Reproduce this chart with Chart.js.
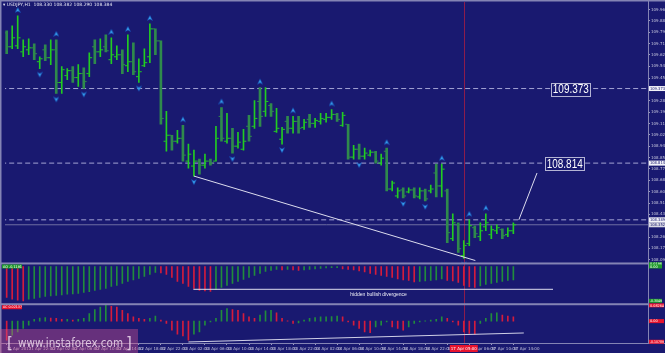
<!DOCTYPE html>
<html><head><meta charset="utf-8">
<script src="https://cdn.jsdelivr.net/npm/chart.js@4.4.0/dist/chart.umd.min.js"></script>
<style>html,body{margin:0;padding:0;background:#191970;overflow:hidden}canvas{display:block}</style>
</head><body>
<div style="position:relative;width:665px;height:353px"><canvas id="c" width="665" height="353"></canvas></div>
<script>
// ---------- data ----------
const headerText = "\u25BE USDJPY,H1  108.330 108.382 108.290 108.384";
const timeLabels = ["11 Apr 2017","11 Apr 22:00","12 Apr 02:00","12 Apr 06:00","12 Apr 10:00","12 Apr 14:00",
  "12 Apr 18:00","12 Apr 22:00","13 Apr 02:00","13 Apr 06:00","13 Apr 10:00","13 Apr 14:00","13 Apr 18:00",
  "13 Apr 22:00","14 Apr 02:00","14 Apr 06:00","14 Apr 10:00","14 Apr 14:00","14 Apr 18:00","14 Apr 22:00",
  "17 Apr 02:00","17 Apr 06:00","17 Apr 10:00","17 Apr 14:00"];
const opens = [109.790,109.686,109.693,109.648,109.663,109.678,109.574,109.663,109.604,109.663,
  109.418,109.470,109.507,109.455,109.485,109.485,109.686,109.648,109.686,109.589,
  109.611,109.626,109.544,109.574,109.462,109.544,109.611,109.820,109.730,108.978,
  109.023,108.978,109.000,108.829,108.792,108.829,108.799,108.829,108.829,109.164,
  108.978,109.000,108.941,108.918,109.090,109.090,109.276,109.202,109.246,109.052,
  108.993,109.127,109.075,109.127,109.082,109.142,109.112,109.127,109.142,109.157,
  109.179,109.097,109.105,108.859,108.918,108.866,108.874,108.896,108.814,108.903,
  108.620,108.568,108.613,108.598,108.613,108.561,108.606,108.606,108.740,108.643,
  108.606,108.248,108.352,108.121,108.211,108.330,108.263,108.337,108.278,108.307,
  108.315,108.278,108.307];
const highs = [109.805,109.842,109.917,109.738,109.745,109.708,109.611,109.701,109.738,109.738,
  109.537,109.522,109.537,109.552,109.529,109.641,109.738,109.745,109.775,109.753,
  109.693,109.663,109.775,109.716,109.596,109.671,109.857,109.820,109.730,109.202,
  109.023,109.060,109.097,108.956,108.911,108.844,108.881,108.844,109.090,109.231,
  109.187,109.075,109.045,109.067,109.172,109.283,109.380,109.380,109.261,109.224,
  109.082,109.164,109.164,109.164,109.142,109.179,109.149,109.187,109.187,109.216,
  109.187,109.194,109.105,108.948,108.956,108.926,108.911,108.903,108.881,108.926,
  108.680,108.628,108.628,108.628,108.628,108.628,108.620,108.650,108.807,108.807,
  108.620,108.434,108.367,108.233,108.389,108.345,108.367,108.434,108.345,108.352,
  108.322,108.330,108.367];
const lows = [109.634,109.671,109.671,109.611,109.626,109.589,109.522,109.581,109.552,109.336,
  109.336,109.440,109.418,109.388,109.373,109.462,109.559,109.611,109.648,109.559,
  109.589,109.485,109.499,109.477,109.418,109.537,109.567,109.626,109.105,108.903,
  108.911,108.963,108.829,108.777,108.717,108.732,108.777,108.799,108.829,108.978,
  108.963,108.889,108.926,108.911,108.978,109.075,109.090,109.164,109.164,109.045,
  108.956,109.038,109.038,109.038,109.067,109.082,109.082,109.105,109.120,109.142,
  109.127,109.090,108.844,108.844,108.844,108.844,108.866,108.814,108.799,108.606,
  108.606,108.553,108.553,108.591,108.553,108.546,108.531,108.591,108.561,108.561,
  108.218,108.233,108.144,108.099,108.196,108.255,108.233,108.307,108.248,108.285,
  108.248,108.263,108.285];
const closes = [109.686,109.753,109.753,109.686,109.678,109.634,109.596,109.604,109.663,109.418,
  109.514,109.507,109.455,109.485,109.425,109.604,109.648,109.663,109.656,109.626,
  109.626,109.552,109.574,109.499,109.499,109.567,109.820,109.730,109.149,109.023,
  108.978,109.000,108.874,108.881,108.829,108.799,108.829,108.814,109.000,109.000,
  109.000,108.941,108.971,108.978,109.015,109.149,109.164,109.276,109.202,109.075,
  109.067,109.075,109.127,109.075,109.120,109.112,109.134,109.149,109.157,109.179,
  109.142,109.172,108.859,108.918,108.866,108.889,108.896,108.829,108.851,108.620,
  108.665,108.606,108.568,108.613,108.568,108.606,108.546,108.620,108.643,108.769,
  108.293,108.367,108.173,108.196,108.345,108.285,108.307,108.367,108.315,108.330,
  108.270,108.307,108.352];
const upFractals = [2,9,19,22,26,32,39,46,52,59,69,79,84,87];
const downFractals = [6,9,14,24,34,41,50,64,72,76,83];
const aoValues = [-0.273,-0.290,-0.299,-0.304,-0.290,-0.282,-0.273,-0.264,-0.260,-0.255,
  -0.251,-0.246,-0.242,-0.238,-0.229,-0.224,-0.211,-0.202,-0.194,-0.176,
  -0.167,-0.150,-0.132,-0.119,-0.106,-0.088,-0.070,-0.053,-0.057,-0.070,
  -0.097,-0.132,-0.150,-0.176,-0.194,-0.211,-0.216,-0.220,-0.202,-0.185,
  -0.167,-0.150,-0.132,-0.114,-0.097,-0.079,-0.062,-0.044,-0.035,-0.026,
  -0.031,-0.026,-0.031,-0.035,-0.031,-0.026,-0.022,-0.018,-0.013,-0.011,
  -0.010,-0.022,-0.026,-0.031,-0.040,-0.048,-0.062,-0.070,-0.079,-0.088,
  -0.097,-0.110,-0.119,-0.123,-0.136,-0.132,-0.128,-0.123,-0.119,-0.110,
  -0.123,-0.128,-0.141,-0.167,-0.180,-0.185,-0.172,-0.158,-0.150,-0.141,
  -0.132,-0.123,-0.119];
const acValues = [-0.099,-0.073,-0.056,-0.038,-0.021,0.009,0.016,0.018,0.016,0.014,
  0.009,0.009,0.005,0.009,0.014,0.040,0.061,0.074,0.083,0.078,
  0.074,0.057,0.040,0.022,0.014,0.009,0.014,0.026,0.005,-0.012,
  -0.047,-0.068,-0.078,-0.099,-0.068,-0.056,-0.021,-0.004,0.014,0.057,
  0.066,0.061,0.057,0.040,0.022,0.014,0.031,0.054,0.057,0.043,
  0.014,0.002,-0.012,-0.009,0.005,0.014,0.019,0.022,0.022,0.024,
  0.026,0.022,-0.004,-0.021,-0.038,-0.056,-0.060,-0.030,-0.021,-0.004,
  -0.030,-0.038,-0.047,-0.030,-0.012,-0.004,0.002,0.005,0.009,0.022,
  0.014,-0.004,-0.021,-0.056,-0.064,-0.068,-0.012,0.014,0.040,0.043,
  0.031,0.026,0.022];
const priceTicks = [109.965,109.880,109.795,109.710,109.625,109.540,109.450,109.365,109.280,109.195,
  109.110,109.025,108.940,108.855,108.770,108.685,108.600,108.515,108.430,108.345,108.260,108.175,108.090];
const levels = [109.373, 108.814, 108.389];
const calloutLevels = [109.373, 108.814];
const bidPrice = 108.352;
const trendMain = [[34,108.717],[85.1,108.084]];
const trendUp = [[93,108.389],[96.3,108.740]];
const aoDivergence = [[33.9,-0.202],[99.2,-0.202]];
const acDivergence = [[33.0,-0.109],[93.9,-0.062]];
const markerBar = 83;
const markerTime = "17 Apr 05:00";
const aoLegend = "AO -0.1191";
const acLegend = "AC 0.02137";
const aoAxisBoxes = [[0.020,"0.0196"],[0.0,"0.00"],[-0.304,"-0.3049"]];
const acAxisBoxes = [[0.0826,"0.08264"],[0.0,"0.00"],[-0.1079,"-0.10789"]];
const divergenceText = "hidden bullish divergence";

// ---------- build ----------
const BG = '#191970';
const idx = opens.map((_, i) => i);
const isUp = i => closes[i] >= opens[i];
const UP = '#22cc22', DN = '#2f8a4c';
const GREEN = '#218c3c', RED = '#d41c3c';

function arrowCanvas(dir) {
  const cv = document.createElement('canvas'); cv.width = 6; cv.height = 20;
  const g = cv.getContext('2d');
  g.fillStyle = '#3aa8f0';
  g.beginPath();
  if (dir === 'up') { g.moveTo(3,1.5); g.lineTo(5.5,6.5); g.lineTo(3,5); g.lineTo(0.5,6.5); }
  else { g.moveTo(3,18.5); g.lineTo(5.5,13.5); g.lineTo(3,15); g.lineTo(0.5,13.5); }
  g.closePath(); g.fill();
  g.strokeStyle = 'rgba(20,80,190,0.9)'; g.lineWidth = 0.5; g.stroke();
  return cv;
}
const upArrow = arrowCanvas('up'), dnArrow = arrowCanvas('down');

const lineDs = (pts, axis, color, dash, order) => ({
  type: 'line', yAxisID: axis, data: pts.map(p => ({x: p[0], y: p[1]})),
  borderColor: color, borderWidth: 1, borderDash: dash || [], pointRadius: 0, order: order, tension: 0
});

const datasets = [];
levels.forEach(lv => datasets.push(lineDs([[-1, lv], [120, lv]], 'y', '#a4a4d4', [5, 3], 20)));
datasets.push(lineDs([[-1, bidPrice], [120, bidPrice]], 'y', '#6e6ea2', [], 20));
datasets.push({ type: 'bar', yAxisID: 'y', grouped: false, order: 5, barThickness: 2,
  data: idx.filter(i => !isUp(i)).map(i => ({x: i, y: [lows[i], highs[i]]})), backgroundColor: DN });
datasets.push({ type: 'bar', yAxisID: 'y', grouped: false, order: 4, barThickness: 1,
  data: idx.filter(isUp).map(i => ({x: i, y: [lows[i], highs[i]]})), backgroundColor: UP });
datasets.push({ type: 'scatter', yAxisID: 'y', order: 3, data: idx.map(i => ({x: i - 0.32, y: opens[i]})),
  pointStyle: 'line', pointRadius: 1.1, pointBorderWidth: 1,
  pointBorderColor: c => isUp(c.dataIndex) ? UP : DN });
datasets.push({ type: 'scatter', yAxisID: 'y', order: 3, data: idx.map(i => ({x: i + 0.32, y: closes[i]})),
  pointStyle: 'line', pointRadius: 1.1, pointBorderWidth: 1,
  pointBorderColor: c => isUp(c.dataIndex) ? UP : DN });
datasets.push({ type: 'scatter', yAxisID: 'y', order: 2, data: upFractals.map(i => ({x: i, y: highs[i]})),
  pointStyle: upArrow, pointRadius: 3 });
datasets.push({ type: 'scatter', yAxisID: 'y', order: 2, data: downFractals.map(i => ({x: i, y: lows[i]})),
  pointStyle: dnArrow, pointRadius: 3 });
datasets.push(lineDs(trendMain, 'y', '#dcdcee', [], 1));
datasets.push(lineDs(trendUp, 'y', '#dcdcee', [], 1));
datasets.push({ type: 'bar', yAxisID: 'yAO', grouped: false, order: 5, barThickness: 1,
  data: idx.map(i => ({x: i, y: aoValues[i]})),
  backgroundColor: c => (c.dataIndex > 0 && aoValues[c.dataIndex] >= aoValues[c.dataIndex - 1]) ? GREEN : RED });
datasets.push({ type: 'bar', yAxisID: 'yAC', grouped: false, order: 5, barThickness: 1,
  data: idx.map(i => ({x: i, y: acValues[i]})),
  backgroundColor: c => (c.dataIndex > 0 && acValues[c.dataIndex] >= acValues[c.dataIndex - 1]) ? GREEN : RED });
datasets.push(lineDs(aoDivergence, 'yAO', '#dcdcee', [], 1));
datasets.push(lineDs(acDivergence, 'yAC', '#d0d0e6', [], 1));

const fixY = s => { s.width = 17; s.paddingTop = 0; s.paddingBottom = 0; s.paddingLeft = 0; s.paddingRight = 0; };
const FRAME = '#8484b4';
const small = {family: 'DejaVu Sans', size: 4};

function box(ctx, x, y, w, h, fill, text, color, font) {
  ctx.fillStyle = fill; ctx.fillRect(x, y, w, h);
  ctx.fillStyle = color; ctx.font = font; ctx.textBaseline = 'middle'; ctx.textAlign = 'left';
  ctx.fillText(text, x + 1, y + h / 2 + 0.3, w - 1);
}

const decor = {
  id: 'decor',
  beforeDraw(chart) {
    const c = chart.ctx; c.save(); c.fillStyle = BG; c.fillRect(0, 0, chart.width, chart.height); c.restore();
  },
  beforeDatasetsDraw(chart) {
    const c = chart.ctx, x = chart.scales.x.getPixelForValue(markerBar);
    c.save(); c.strokeStyle = '#8c1c4c'; c.lineWidth = 1;
    c.beginPath(); c.moveTo(Math.round(x) + 0.5, 2); c.lineTo(Math.round(x) + 0.5, 343); c.stroke(); c.restore();
  },
  afterDraw(chart) {
    const c = chart.ctx, sx = chart.scales.x, sy = chart.scales.y, sa = chart.scales.yAO, sc = chart.scales.yAC;
    const ca = chart.chartArea;
    c.save();
    // frames
    c.fillStyle = FRAME;
    c.fillRect(0, 0, 665, 1.5);
    c.fillRect(0, 0, 1.5, 353);
    c.fillRect(0, sa.top - 1, ca.right, 2);
    c.fillRect(0, sc.top - 1, ca.right, 2);
    c.fillRect(0, ca.bottom, 665, 1);
    c.fillRect(ca.right, 0, 1, ca.bottom);
    // header
    c.fillStyle = '#e8e8f4'; c.font = '4.5px DejaVu Sans'; c.textBaseline = 'middle'; c.textAlign = 'left';
    c.fillText(headerText, 3, 4.5);
    // callouts
    const cx = [98.8, 97.7];
    calloutLevels.forEach((lv, k) => {
      const x = sx.getPixelForValue(cx[k]), y = sy.getPixelForValue(lv) + 1;
      c.fillStyle = BG; c.fillRect(x, y - 7, 40, 14);
      c.strokeStyle = '#b4b4d4'; c.lineWidth = 1; c.strokeRect(Math.round(x) + 0.5, Math.round(y - 7) + 0.5, 39, 13);
      c.fillStyle = '#ffffff'; c.font = '12px Liberation Sans'; c.textBaseline = 'middle';
      c.fillText(lv.toFixed(3), x + 2, y + 0.5, 36);
    });
    // right axis highlight boxes
    levels.forEach(lv => box(c, ca.right + 1, sy.getPixelForValue(lv) - 2.5, 16, 5, '#f2f2f8', lv.toFixed(3), '#191970', '4px DejaVu Sans'));
    box(c, ca.right + 1, sy.getPixelForValue(bidPrice) - 2.5, 16, 5, '#d8d8e4', bidPrice.toFixed(3), '#191970', '4px DejaVu Sans');
    aoAxisBoxes.forEach(b => box(c, ca.right + 1, sa.getPixelForValue(b[0]) - 2, 13, 4, '#1d9a2a', b[1], '#ffffff', '3.5px DejaVu Sans'));
    acAxisBoxes.forEach(b => box(c, ca.right + 1, sc.getPixelForValue(b[0]) - 2, 15, 4, '#e8142e', b[1], '#ffffff', '3.5px DejaVu Sans'));
    // legends of subwindows
    box(c, 2, sa.top + 1, 20, 4, '#1d9a2a', aoLegend, '#ffffff', '3.5px DejaVu Sans');
    box(c, 2, sc.top + 1, 20, 4, '#e8142e', acLegend, '#ffffff', '3.5px DejaVu Sans');
    // divergence text
    c.fillStyle = '#f0f0f8'; c.font = '5px Liberation Sans'; c.textBaseline = 'middle'; c.textAlign = 'left';
    c.fillText(divergenceText, sx.getPixelForValue(62.4), sa.getPixelForValue(-0.251));
    // crosshair time box
    const mx = sx.getPixelForValue(markerBar);
    box(c, mx - 14, ca.bottom + 2, 28, 7, '#e8142e', markerTime, '#ffffff', '4px DejaVu Sans');
    // watermark
    c.fillStyle = 'rgba(210,80,140,0.42)'; c.fillRect(0, 329, 138, 24);
    c.fillStyle = 'rgba(238,220,238,0.85)'; c.textBaseline = 'alphabetic'; c.textAlign = 'left';
    c.font = '15px DejaVu Sans'; c.fillText('[', 7, 348); c.fillText(']', 126, 348);
    c.font = '13px DejaVu Sans'; c.fillText('www.instaforex.com', 18, 346.5, 105);
    c.restore();
  }
};

new Chart(document.getElementById('c'), {
  type: 'bar',
  data: { datasets },
  options: {
    responsive: false, animation: false, events: [],
    layout: { padding: { top: 3, left: 0, right: 0, bottom: 0 } },
    plugins: { legend: { display: false }, tooltip: { enabled: false } },
    scales: {
      x: { type: 'linear', position: 'bottom', min: -0.306, max: 116.45, offset: false,
        afterBuildTicks: s => { s.ticks = timeLabels.map((t, k) => ({ value: k * 4 })); },
        afterFit: s => { s.height = 10; s.paddingLeft = 0; s.paddingRight = 0; },
        ticks: { autoSkip: false, maxRotation: 0, minRotation: 0, align: 'start', padding: 2,
          font: small, color: '#c4c4dc', callback: (v, i) => timeLabels[i] },
        grid: { display: true, drawOnChartArea: false, drawTicks: true, tickLength: 2, color: '#9a9ac4', offset: false },
        border: { display: false } },
      y: { type: 'linear', position: 'right', stack: 'panes', stackWeight: 260, min: 108.062, max: 109.999,
        afterBuildTicks: s => { s.ticks = priceTicks.map(v => ({ value: v })); },
        afterFit: fixY,
        ticks: { autoSkip: false, font: small, color: '#c4c4dc', padding: 1, callback: v => v.toFixed(3) },
        grid: { drawOnChartArea: false, tickLength: 2, color: '#9a9ac4' }, border: { display: false } },
      yAO: { type: 'linear', position: 'right', stack: 'panes', stackWeight: 41, min: -0.334, max: 0.0264,
        afterFit: fixY, ticks: { display: false }, grid: { display: false }, border: { display: false } },
      yAC: { type: 'linear', position: 'right', stack: 'panes', stackWeight: 39, min: -0.1144, max: 0.0884,
        afterFit: fixY, ticks: { display: false }, grid: { display: false }, border: { display: false } }
    }
  },
  plugins: [decor]
});
</script>
</body></html>
